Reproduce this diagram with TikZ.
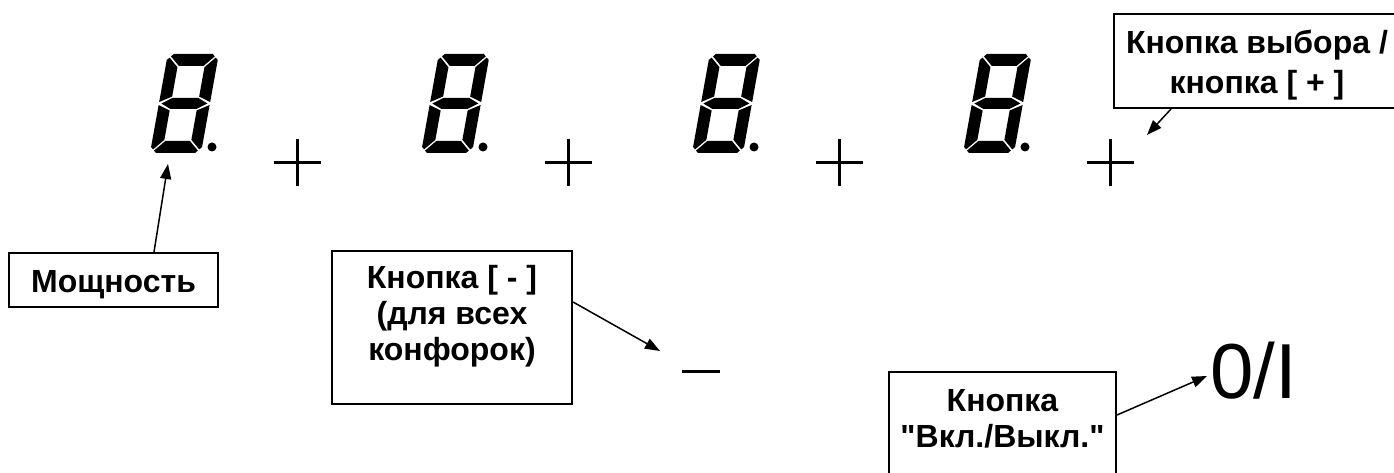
\documentclass[tikz,border=0pt]{standalone}
\usepackage{fontspec}
\setmainfont{Liberation Sans}[Ligatures=TeXOff]
\usepackage{tikz}
\usetikzlibrary{arrows.meta}
\usetikzlibrary{positioning}
\tikzset{box/.style={draw, line width=2pt, inner sep=0pt}}
\tikzset{lbl/.style={align=center, inner sep=0pt,
                     font=\bfseries\fontsize{32}{36}\selectfont}}
\tikzset{arr/.style={-{Triangle[length=15pt,width=11pt]}, line width=1.5pt}}
\tikzset{plusline/.style={line width=3pt}}

\begin{document}
\begin{tikzpicture}[x=1pt, y=1pt]
  \path[use as bounding box, clip] (0,0) rectangle (1394,473);

  % digits, dots and plus keys
  \foreach \x in {150,421,692,963}
  {
  \begin{scope}[shift={(\x,320)}, xslant=0.18]
    \fill (6,99) -- (45,99) -- (47.4,96.6) -- (37.8,87) -- (13.2,87) -- (3.6,96.6) -- cycle;
    \fill (6,0) -- (45,0) -- (47.4,2.4) -- (37.8,12) -- (13.2,12) -- (3.6,2.4) -- cycle;
    \fill (2.5,49.5) -- (12.5,55) -- (38.5,55) -- (48.5,49.5) -- (38.5,44) -- (12.5,44) -- cycle;
    \fill (0,93) -- (2.4,95.4) -- (12,85.8) -- (12,56.5) -- (0,51) -- cycle;
    \fill (0,6) -- (2.4,3.6) -- (12,13.2) -- (12,42.5) -- (0,48) -- cycle;
    \fill (51,93) -- (48.6,95.4) -- (39,85.8) -- (39,56.5) -- (51,51) -- cycle;
    \fill (51,6) -- (48.6,3.6) -- (39,13.2) -- (39,42.5) -- (51,48) -- cycle;
  \end{scope}
  \fill (\x+62,326) circle (4.5pt);
  \draw[plusline] (\x+123.5,310) -- (\x+170.5,310) (\x+147,286.5) -- (\x+147,333.5);
  }

  % minus key and on/off key
  \draw[plusline] (682,101) -- (720,101);
  \node[inner sep=0pt, anchor=base west, font=\fontsize{78}{80}\selectfont] (onoff) at (1210,74) {0/I};

  % boxes
  \node[box, minimum width=209pt, minimum height=54pt] (powbox) at (113.5,193) {};
  \node[lbl, anchor=base] (powtxt) at (113.5,180) {Мощность};

  \node[box, minimum width=240pt, minimum height=153pt] (minusbox) at (452,145.5) {};
  \node[lbl] (minustxt) at (452,157) {Кнопка [ - ]\\(для всех\\конфорок)};

  \node[box, minimum width=286pt, minimum height=94pt] (selbox) at (1257,412) {};
  \node[lbl, font=\bfseries\fontsize{32}{40}\selectfont] (seltxt) at (1257,408) {Кнопка выбора /\\кнопка [ + ]};

  \node[box, minimum width=227pt, minimum height=111pt] (onoffbox) at (1002.5,45.5) {};
  \node[lbl] (onofftxt) at (1002.5,54) {Кнопка\\"Вкл./Выкл."};

  % arrow ends
  \coordinate (powtip) at (168,309);
  \coordinate (seltip) at (1147,338);
  \coordinate (minustip) at (660,122);
  \coordinate (onofftip) at (1207,97);

  % arrows
  \draw[arr] ([xshift=40.5pt]powbox.north) -- (powtip);
  \draw[arr] ([yshift=25.5pt]minusbox.east) -- (minustip);
  \draw[arr] ([xshift=58pt]selbox.south west) -- (seltip);
  \draw[arr] ([yshift=-44pt]onoffbox.north east) -- (onofftip);

\end{tikzpicture}
\end{document}
